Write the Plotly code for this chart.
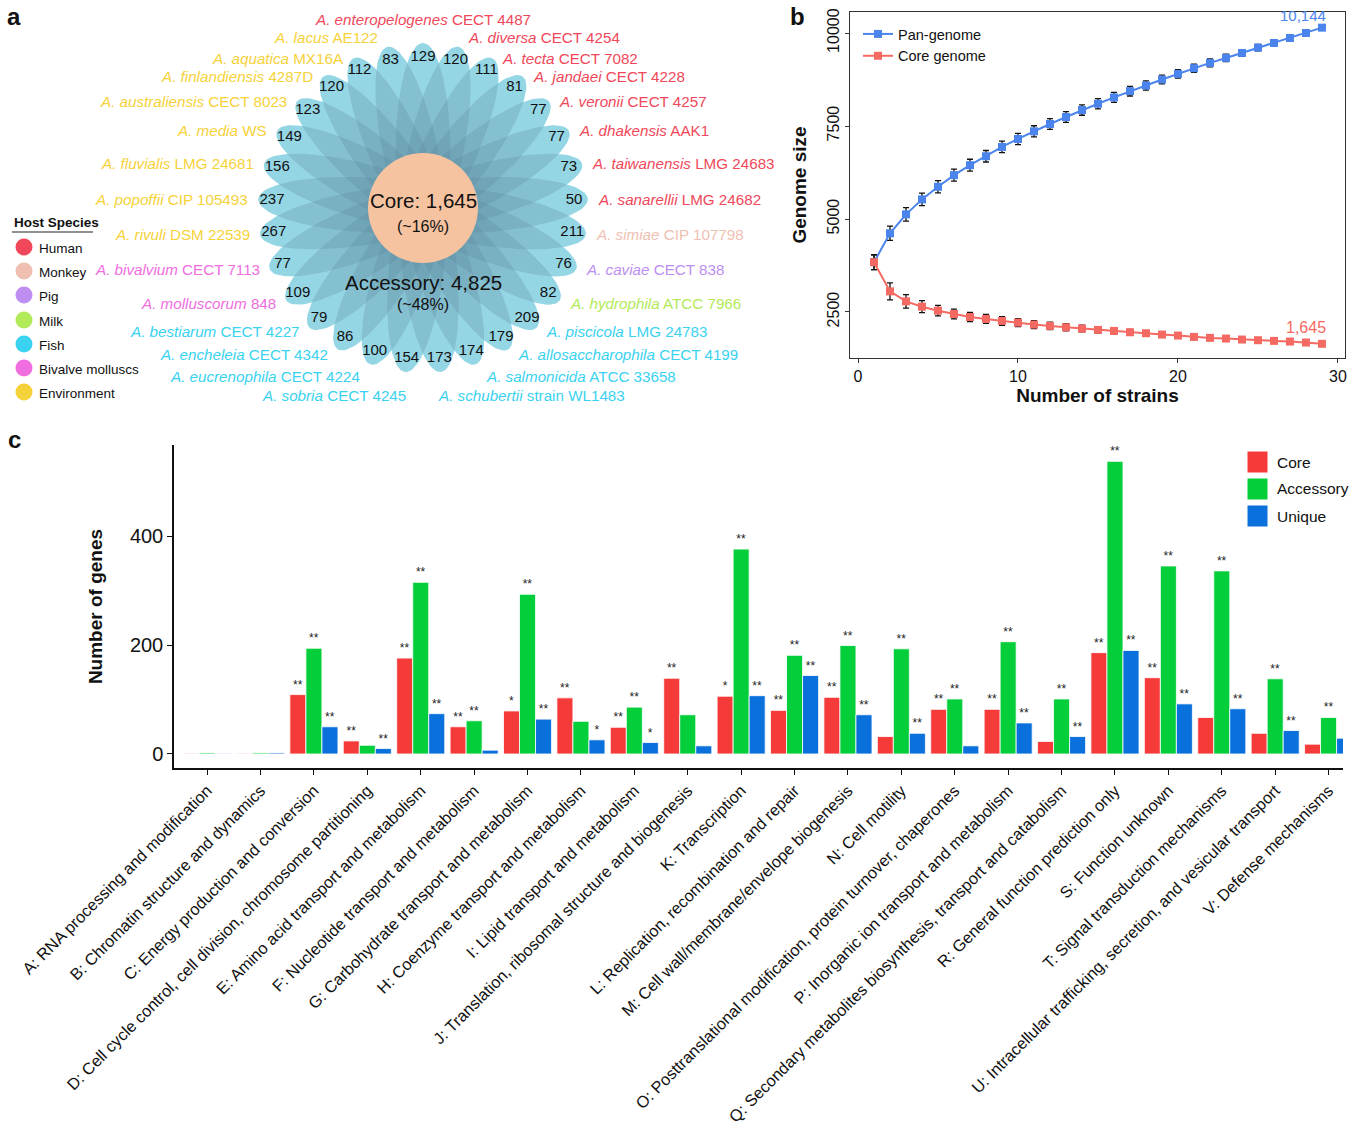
import numpy as np
import plotly.graph_objects as go

W, H = 1360, 1131
FONT = "Liberation Sans, Arial, sans-serif"

# ---------------- Panel a data ----------------
species = ["A. enteropelogenes", "A. lacus", "A. aquatica", "A. finlandiensis", "A. australiensis",
           "A. media", "A. fluvialis", "A. popoffii", "A. rivuli", "A. bivalvium", "A. molluscorum",
           "A. bestiarum", "A. encheleia", "A. eucrenophila", "A. sobria", "A. schubertii",
           "A. salmonicida", "A. allosaccharophila", "A. piscicola", "A. hydrophila", "A. caviae",
           "A. simiae", "A. sanarellii", "A. taiwanensis", "A. dhakensis", "A. veronii",
           "A. jandaei", "A. tecta", "A. diversa"]
strains = ["CECT 4487", "AE122", "MX16A", "4287D", "CECT 8023", "WS", "LMG 24681", "CIP 105493",
           "DSM 22539", "CECT 7113", "848", "CECT 4227", "CECT 4342", "CECT 4224", "CECT 4245",
           "strain WL1483", "ATCC 33658", "CECT 4199", "LMG 24783", "ATCC 7966", "CECT 838",
           "CIP 107798", "LMG 24682", "LMG 24683", "AAK1", "CECT 4257", "CECT 4228", "CECT 7082",
           "CECT 4254"]
unique_counts = [129, 83, 112, 120, 123, 149, 156, 237, 267, 77, 109, 79, 86, 100, 154, 173,
                 174, 179, 209, 82, 76, 211, 50, 73, 77, 77, 81, 111, 120]
hosts = ["Human"] + ["Environment"] * 8 + ["Bivalve molluscs"] * 2 + ["Fish"] * 8 + \
        ["Milk", "Pig", "Monkey"] + ["Human"] * 7
host_names = ["Human", "Monkey", "Pig", "Milk", "Fish", "Bivalve molluscs", "Environment"]
host_colors = ["#F0485A", "#EFBFB2", "#BE8EF0", "#B2EA58", "#3AD2F0", "#F06EDF", "#F6D23A"]
core_genes = "1,645"
core_pct = "(~16%)"
accessory_genes = "4,825"
accessory_pct = "(~48%)"

# ---------------- Panel b data ----------------
strain_n = list(range(1, 30))
pan_size = [3839, 4616, 5125, 5527, 5866, 6179, 6446, 6687, 6937, 7152, 7357, 7554, 7741, 7929,
            8098, 8268, 8437, 8589, 8750, 8902, 9054, 9196, 9330, 9464, 9607, 9732, 9866, 10000, 10144]
pan_err = [200, 190, 180, 170, 165, 160, 160, 155, 155, 150, 150, 145, 145, 140, 140, 135, 130,
           125, 120, 115, 110, 105, 100, 90, 85, 75, 60, 45, 0]
core_size = [3839, 3054, 2786, 2643, 2536, 2446, 2366, 2313, 2259, 2214, 2161, 2125, 2089, 2054,
             2018, 1991, 1955, 1929, 1893, 1866, 1830, 1804, 1786, 1759, 1741, 1723, 1705, 1679, 1645]
core_err = [200, 230, 180, 160, 140, 130, 125, 120, 115, 110, 105, 100, 95, 90, 85, 80, 75, 70,
            65, 60, 55, 50, 45, 40, 35, 30, 25, 15, 0]

# ---------------- Panel c data ----------------
cog_labels = ["A: RNA processing and modification", "B: Chromatin structure and dynamics",
              "C: Energy production and conversion",
              "D: Cell cycle control, cell division, chromosome partitioning",
              "E: Amino acid transport and metabolism", "F: Nucleotide transport and metabolism",
              "G: Carbohydrate transport and metabolism", "H: Coenzyme transport and metabolism",
              "I: Lipid transport and metabolism", "J: Translation, ribosomal structure and biogenesis",
              "K: Transcription", "L: Replication, recombination and repair",
              "M: Cell wall/membrane/envelope biogenesis", "N: Cell motility",
              "O: Posttranslational modification, protein turnover, chaperones",
              "P: Inorganic ion transport and metabolism",
              "Q: Secondary metabolites biosynthesis, transport and catabolism",
              "R: General function prediction only", "S: Function unknown",
              "T: Signal transduction mechanisms",
              "U: Intracellular trafficking, secretion, and vesicular transport",
              "V: Defense mechanisms"]
core_vals = [1, 1, 109, 24, 176, 50, 79, 103, 49, 139, 106, 80, 104, 32, 82, 82, 23, 186, 140, 67, 38, 18]
acc_vals = [2, 2, 194, 16, 315, 61, 293, 60, 86, 72, 376, 181, 199, 193, 101, 206, 101, 537, 345, 336, 138, 67]
uniq_vals = [1, 2, 50, 10, 74, 7, 64, 26, 21, 15, 107, 144, 72, 38, 15, 57, 32, 190, 92, 83, 43, 29]
core_sig = ["", "", "**", "**", "**", "**", "*", "**", "**", "**", "*", "**", "**", "", "**", "**", "", "**", "**", "", "", ""]
acc_sig = ["", "", "**", "", "**", "**", "**", "", "**", "", "**", "**", "**", "**", "**", "**", "**", "**", "**", "**", "**", "**"]
uniq_sig = ["", "", "**", "**", "**", "", "**", "*", "*", "", "**", "**", "**", "**", "", "**", "**", "**", "**", "**", "**", "**"]
bar_names = ["Core", "Accessory", "Unique"]
bar_colors = ["#F53B3A", "#05CE3B", "#0A70DB"]


def xdom(a, b):
    return [a / W, b / W]


def ydom(top, bottom):
    return [1 - bottom / H, 1 - top / H]


fig = go.Figure()

# ================= Panel a : flower =================
cx, cy, u = 423.0, 208.0, 55.0
n = len(species)
angles = [90 + k * 360.0 / n for k in range(n)]
t = np.linspace(0, 2 * np.pi, 100)


def petal(theta):
    th = np.radians(theta)
    d = np.array([np.cos(th), -np.sin(th)])
    nn = np.array([np.sin(th), np.cos(th)])
    ccx, ccy = cx + u * d[0], cy + u * d[1]
    xs = ccx + 2 * u * np.cos(t) * d[0] + 0.5 * u * np.sin(t) * nn[0]
    ys = ccy + 2 * u * np.cos(t) * d[1] + 0.5 * u * np.sin(t) * nn[1]
    return xs, ys


for th in angles:
    xs, ys = petal(th)
    fig.add_trace(go.Scatter(x=xs, y=ys, fill="toself", mode="lines", line=dict(width=0),
                             fillcolor="rgb(170,243,255)", hoverinfo="skip", showlegend=False,
                             xaxis="x", yaxis="y"))
for th in angles:
    xs, ys = petal(th)
    fig.add_trace(go.Scatter(x=xs, y=ys, fill="toself", mode="lines", line=dict(width=0),
                             fillcolor="rgba(88,128,150,0.25)", hoverinfo="skip", showlegend=False,
                             xaxis="x", yaxis="y"))

# core circle
fig.add_shape(type="circle", xref="x", yref="y", x0=cx - u, x1=cx + u, y0=cy - u, y1=cy + u,
              fillcolor="#F6C3A1", line=dict(width=0))

# counts
lab_r = 2.75 * u
cnt_x = [cx + lab_r * np.cos(np.radians(a)) for a in angles]
cnt_y = [cy - lab_r * np.sin(np.radians(a)) for a in angles]
fig.add_trace(go.Scatter(x=cnt_x, y=cnt_y, mode="text", text=[str(v) for v in unique_counts],
                         textfont=dict(size=15, color="#111", family=FONT), hoverinfo="skip",
                         showlegend=False, xaxis="x", yaxis="y"))

annotations = []
color_of = dict(zip(host_names, host_colors))
# extra nudges (pixels) for labels near the top / bottom of the flower
label_dy = {0: -24, 1: -9, 28: -9, 14: 23, 15: 23, 13: 12, 16: 12, 12: 5, 17: 5,
            11: 4, 18: 4, 10: 3, 19: 3}
label_dx = {14: 11, 15: -13}
for k, a in enumerate(angles):
    c, s = np.cos(np.radians(a)), np.sin(np.radians(a))
    x = cx + 3 * u * c + 8 * np.sign(c) * (abs(c) > 0.05) + label_dx.get(k, 0)
    y = cy - 3 * u * s + label_dy.get(k, 0)
    if c > 0.05:
        xa = "left"
    elif c < -0.05:
        xa = "right"
    else:
        xa = "center"
    annotations.append(dict(x=x, y=y, xref="x", yref="y", xanchor=xa, yanchor="middle",
                            text=f"<i>{species[k]}</i> {strains[k]}", showarrow=False,
                            font=dict(size=15.2, color=color_of[hosts[k]], family=FONT)))

annotations += [
    dict(x=cx, y=200, xref="x", yref="y", text=f"Core: {core_genes}", showarrow=False,
         font=dict(size=20.5, color="#111", family=FONT)),
    dict(x=cx, y=226, xref="x", yref="y", text=core_pct, showarrow=False,
         font=dict(size=16, color="#111", family=FONT)),
    dict(x=cx, y=282, xref="x", yref="y", text=f"Accessory: {accessory_genes}", showarrow=False,
         font=dict(size=20.5, color="#111", family=FONT)),
    dict(x=cx, y=304, xref="x", yref="y", text=accessory_pct, showarrow=False,
         font=dict(size=16, color="#111", family=FONT)),
]

# host legend
annotations.append(dict(x=12, y=222, xref="x", yref="y", xanchor="left", yanchor="middle",
                        text="<b>Host Species</b>", showarrow=False,
                        font=dict(size=13.5, color="#111", family=FONT)))
fig.add_shape(type="line", xref="x", yref="y", x0=12, x1=93, y0=232, y1=232,
              line=dict(color="#222", width=1.2))
leg_y = [247, 271, 295, 320, 344, 368, 392]
for name, col, yy in zip(host_names, host_colors, leg_y):
    fig.add_shape(type="circle", xref="x", yref="y", x0=15.5, x1=32.5, y0=yy - 8.5, y1=yy + 8.5,
                  fillcolor=col, line=dict(width=0))
    annotations.append(dict(x=37, y=yy + 1, xref="x", yref="y", xanchor="left", yanchor="middle",
                            text=name, showarrow=False,
                            font=dict(size=13.5, color="#111", family=FONT)))

# ================= Panel b =================
pan_col = "#4A84EC"
core_col = "#F46A62"
fig.add_trace(go.Scatter(x=strain_n, y=pan_size, mode="lines+markers", name="Pan-genome",
                         line=dict(color=pan_col, width=2),
                         marker=dict(symbol="square", size=8, color=pan_col),
                         error_y=dict(type="data", array=pan_err, color="#111", thickness=1.3, width=3),
                         xaxis="x2", yaxis="y2", legend="legend"))
fig.add_trace(go.Scatter(x=strain_n, y=core_size, mode="lines+markers", name="Core genome",
                         line=dict(color=core_col, width=2),
                         marker=dict(symbol="square", size=8, color=core_col),
                         error_y=dict(type="data", array=core_err, color="#111", thickness=1.3, width=3),
                         xaxis="x2", yaxis="y2", legend="legend"))
annotations += [
    dict(x=strain_n[-1], y=pan_size[-1], xref="x2", yref="y2", xanchor="right", yanchor="bottom",
         yshift=2, xshift=6, text=f"{pan_size[-1]:,}", showarrow=False,
         font=dict(size=15, color=pan_col, family=FONT)),
    dict(x=strain_n[-1], y=core_size[-1], xref="x2", yref="y2", xanchor="right", yanchor="bottom",
         yshift=6, xshift=6, text=f"{core_size[-1]:,}", showarrow=False,
         font=dict(size=16, color=core_col, family=FONT)),
]

# ================= Panel c =================
x_idx = list(range(len(cog_labels)))
for name, vals, sig, col in zip(bar_names, [core_vals, acc_vals, uniq_vals],
                                [core_sig, acc_sig, uniq_sig], bar_colors):
    fig.add_trace(go.Bar(x=x_idx, y=vals, name=name, marker=dict(color=col, line=dict(color="white", width=0.8)),
                         text=sig, textposition="outside", constraintext="none",
                         textfont=dict(size=12, color="#222", family=FONT), cliponaxis=False,
                         xaxis="x3", yaxis="y3", showlegend=False))

# legend panel c
for i, (name, col) in enumerate(zip(bar_names, bar_colors)):
    y0 = 451 + 27 * i
    fig.add_shape(type="rect", xref="paper", yref="paper", x0=1247 / W, x1=1268 / W,
                  y0=1 - (y0 + 22) / H, y1=1 - y0 / H, fillcolor=col, line=dict(color="white", width=1))
    annotations.append(dict(x=1275 / W, y=1 - (y0 + 11) / H, xref="paper", yref="paper",
                            xanchor="left", yanchor="middle", text=name, showarrow=False,
                            font=dict(size=15.5, color="#111", family=FONT)))

# panel letters
for letter, px, py in [("a", 14, 16), ("b", 797, 16), ("c", 14, 440)]:
    annotations.append(dict(x=px / W, y=1 - py / H, xref="paper", yref="paper", xanchor="center",
                            yanchor="middle", text=f"<b>{letter}</b>", showarrow=False,
                            font=dict(size=24, color="#111", family=FONT)))

fig.update_layout(
    width=W, height=H, margin=dict(l=0, r=0, t=0, b=0, autoexpand=False),
    paper_bgcolor="white", plot_bgcolor="white",
    font=dict(family=FONT, color="#111"),
    barmode="group", bargap=0.1, bargroupgap=0,
    xaxis=dict(domain=xdom(0, 790), range=[0, 790], visible=False, fixedrange=True, automargin=False),
    yaxis=dict(domain=ydom(0, 420), range=[420, 0], visible=False, fixedrange=True, automargin=False),
    xaxis2=dict(domain=xdom(850, 1345), range=[-0.5, 30.44], tickvals=[0, 10, 20, 30],
                showline=True, mirror=True, linecolor="#333", linewidth=1, ticks="outside",
                ticklen=4, tickcolor="#333", showgrid=False, zeroline=False, automargin=False,
                tickfont=dict(size=16, color="#111"),
                title=dict(text="<b>Number of strains</b>", font=dict(size=19, color="#111"), standoff=4),
                anchor="y2"),
    yaxis2=dict(domain=ydom(12, 358), range=[1263, 10565], tickvals=[2500, 5000, 7500, 10000],
                tickformat="d",
                showline=True, mirror=True, linecolor="#333", linewidth=1, ticks="outside",
                ticklen=4, tickcolor="#333", showgrid=False, zeroline=False, tickangle=-90,
                tickfont=dict(size=16, color="#111"), automargin=False,
                title=dict(text="<b>Genome size</b>", font=dict(size=19, color="#111"), standoff=12),
                anchor="x2"),
    xaxis3=dict(domain=xdom(174, 1343), range=[-0.62, 21.27], tickvals=x_idx, ticktext=cog_labels,
                tickangle=-45, showline=True, linecolor="#111", linewidth=1.5, ticks="outside",
                ticklen=5, tickcolor="#111", showgrid=False, zeroline=False, automargin=False,
                tickfont=dict(size=16.3, color="#111"), anchor="y3"),
    yaxis3=dict(domain=ydom(445, 768), range=[-25.7, 567], tickvals=[0, 200, 400],
                showline=True, linecolor="#111", linewidth=1.5, ticks="outside", ticklen=5,
                tickcolor="#111", showgrid=False, zeroline=False, automargin=False,
                tickfont=dict(size=20, color="#111"),
                title=dict(text="<b>Number of genes</b>", font=dict(size=19, color="#111"), standoff=22),
                anchor="x3"),
    legend=dict(x=858 / W, y=1 - 18 / H, xanchor="left", yanchor="top", bgcolor="rgba(0,0,0,0)",
                font=dict(size=14.5, color="#111"), tracegroupgap=0, itemwidth=30),
    annotations=annotations,
)

fig.write_html("out.html", config={"displayModeBar": False},
               post_script="document.body.style.margin='0px';document.body.style.overflow='hidden';")
